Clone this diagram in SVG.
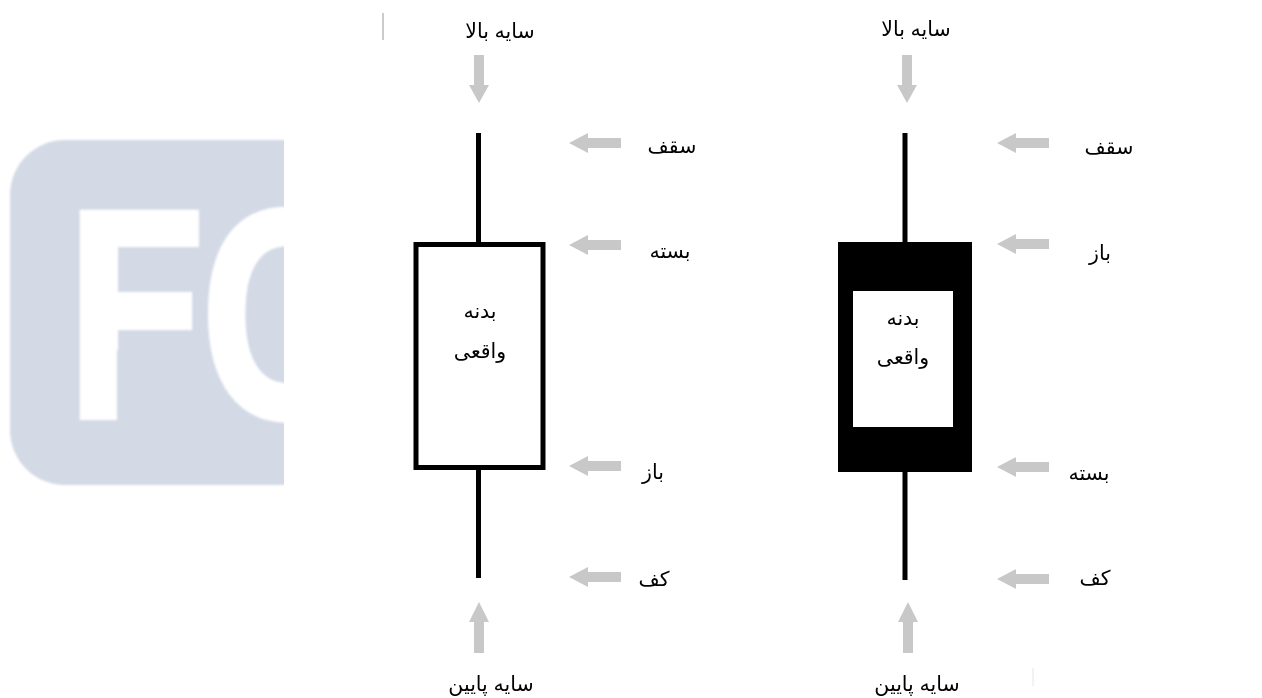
<svg xmlns="http://www.w3.org/2000/svg" width="1262" height="698" viewBox="0 0 1262 698">
<style>
.l{font-family:"Liberation Sans","DejaVu Sans","Noto Sans",sans-serif;font-size:20.500px;fill:#000;text-anchor:middle;direction:rtl}
.a{fill:#c8c8c8}
.w{stroke:#000;stroke-width:5;fill:none}
.g{font-family:"Liberation Sans",sans-serif;font-weight:700;font-size:297px;fill:#fff;stroke:#fff;stroke-width:6;letter-spacing:-5px}
</style>
<defs>
<clipPath id="cp"><rect x="0" y="130" width="284" height="370"/></clipPath>
<filter id="soft" x="-5%" y="-5%" width="110%" height="110%"><feGaussianBlur stdDeviation="1"/></filter>
<filter id="soft2" x="-30%" y="-30%" width="160%" height="160%"><feGaussianBlur stdDeviation="0.600"/></filter>
<path id="al" d="M0 0L19 -10V-5H52V5H19V10Z"/>
<path id="ad" d="M0 0L-10 -18H-5V-48H5V-18H10Z"/>
<path id="au" d="M0 0L-10 20H-5V51H5V20H10Z"/>
</defs>
<rect width="1262" height="698" fill="#fff"/>
<g id="watermark" clip-path="url(#cp)">
<g filter="url(#soft)">
<rect x="10" y="140" width="340" height="345" rx="55" fill="#d3dae6"/>
<text class="g" transform="translate(67 417) scale(.76 1)">FC</text>
<rect x="118" y="330" width="86" height="20" fill="#d3dae6"/>
<rect x="110" y="292" width="82" height="38" fill="#fff"/>
<rect x="192" y="292" width="12" height="38" fill="#d3dae6"/>
<rect x="118" y="247" width="86" height="45" fill="#d3dae6"/>
<rect x="110" y="247" width="8" height="103" fill="#fff"/>
</g>
</g>
<path d="M383 13V40" stroke="#bbb" stroke-width="1.500"/>
<path d="M1033 668V686" stroke="#e6e6e6"/>
<g id="connectors" filter="url(#soft2)">
<use href="#ad" class="a" x="479" y="103"/>
<use href="#al" class="a" x="569" y="143"/>
<use href="#al" class="a" x="569" y="245"/>
<use href="#al" class="a" x="569" y="466"/>
<use href="#al" class="a" x="569" y="577"/>
<use href="#au" class="a" x="479" y="602"/>
<use href="#ad" class="a" x="907" y="103"/>
<use href="#al" class="a" x="997" y="143"/>
<use href="#al" class="a" x="997" y="244"/>
<use href="#al" class="a" x="997" y="467"/>
<use href="#al" class="a" x="997" y="579"/>
<use href="#au" class="a" x="908" y="602"/>
</g>
<g id="candle-white">
<path class="w" d="M478.500 133V243M478.500 468V578"/>
<rect class="w" x="416" y="244.500" width="127" height="223" fill="#fff"/>
</g>
<g id="candle-black">
<path class="w" d="M905 133V243M905 470V580"/>
<rect x="838" y="242" width="134" height="230" fill="#000"/>
<rect x="853" y="291" width="100" height="136" fill="#fff"/>
</g>
<g id="labels">
<text class="l" x="500" y="38">سایه بالا</text>
<text class="l" x="916" y="36">سایه بالا</text>
<text class="l" x="672" y="153">سقف</text>
<text class="l" x="1109" y="154">سقف</text>
<text class="l" x="670" y="258">بسته</text>
<text class="l" x="1100" y="260">باز</text>
<text class="l" x="653" y="479">باز</text>
<text class="l" x="1089" y="480">بسته</text>
<text class="l" x="654" y="586">کف</text>
<text class="l" x="1095" y="585">کف</text>
<text class="l" x="480" y="318">بدنه</text>
<text class="l" x="480" y="358">واقعی</text>
<text class="l" x="903" y="325">بدنه</text>
<text class="l" x="903" y="364">واقعی</text>
<text class="l" x="491" y="691">سایه پایین</text>
<text class="l" x="917" y="691">سایه پایین</text>
</g>
</svg>
